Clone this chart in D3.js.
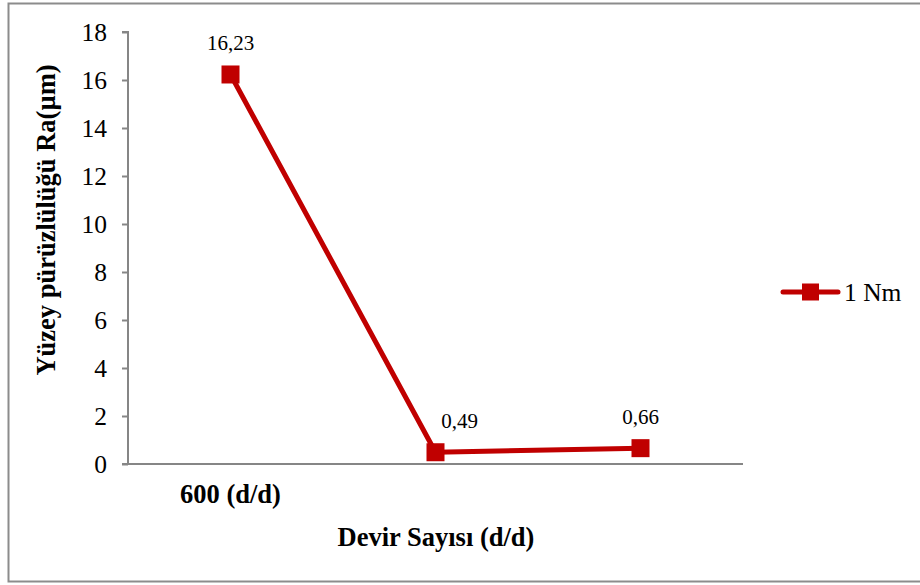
<!DOCTYPE html>
<html>
<head>
<meta charset="utf-8">
<script src="https://cdn.jsdelivr.net/npm/d3@7/dist/d3.min.js"></script>
<style>
  html, body { margin: 0; padding: 0; background: #fff; }
  svg { display: block; font-family: "Liberation Serif", "Times New Roman", serif; }
</style>
</head>
<body>
<svg id="chart" width="920" height="585"></svg>
<script>
// Surface roughness (Ra) versus spindle speed, one torque series
const categories = ["600 (d/d)", "", ""];
const series1Name = "1 Nm";
const series1Values = [16.23, 0.49, 0.66];
const valueLabels = ["16,23", "0,49", "0,66"];
const yTicks = [0, 2, 4, 6, 8, 10, 12, 14, 16, 18];
const xTitle = "Devir Sayısı (d/d)";
const yTitle = "Yüzey pürüzlülüğü Ra(µm)";

// label offsets (px) so the middle label clears the falling line
const labelDx = [0, 24, 0];

const svg = d3.select("#chart");
const red = "#c00000";
const axisGray = "#868686";
const serif = "'Liberation Serif', 'Times New Roman', serif";

// outer frame
svg.append("rect")
  .attr("x", 8.5).attr("y", 3.5)
  .attr("width", 930).attr("height", 578)
  .attr("fill", "none").attr("stroke", "#8c8c8c").attr("stroke-width", 2);

const plot = { left: 128, right: 743, top: 32, bottom: 464 };

const x = d3.scaleBand()
  .domain(d3.range(categories.length))
  .range([plot.left, plot.right])
  .padding(0);

const y = d3.scaleLinear()
  .domain([0, 18])
  .range([plot.bottom, plot.top]);

const cx = i => x(i) + x.bandwidth() / 2;

// y axis
const yAxis = svg.append("g")
  .attr("transform", `translate(${plot.left},0)`)
  .call(d3.axisLeft(y).tickValues(yTicks).tickSize(6).tickPadding(15).tickFormat(d3.format("d")));
yAxis.select(".domain").attr("stroke", axisGray).attr("stroke-width", 2).attr("d", `M-6,${plot.top}H0V${plot.bottom}`);
yAxis.selectAll(".tick line").attr("stroke", axisGray).attr("stroke-width", 2);
yAxis.selectAll(".tick text")
  .attr("fill", "#000").attr("font-size", 25.5)
  .attr("font-family", serif);

// x axis (no tick marks)
const xAxis = svg.append("g")
  .attr("transform", `translate(0,${plot.bottom})`)
  .call(d3.axisBottom(x).tickSize(0).tickPadding(20).tickFormat(i => categories[i]));
xAxis.select(".domain").attr("stroke", axisGray).attr("stroke-width", 2).attr("d", `M${plot.left - 6},0H${plot.right}`);
xAxis.selectAll(".tick text")
  .attr("fill", "#000").attr("font-size", 26.5).attr("font-weight", "bold")
  .attr("font-family", serif);

// axis titles
svg.append("text")
  .attr("x", 436).attr("y", 546)
  .attr("text-anchor", "middle")
  .attr("font-size", 26.5).attr("font-weight", "bold")
  .text(xTitle);

svg.append("text")
  .attr("transform", `translate(55,220) rotate(-90)`)
  .attr("text-anchor", "middle")
  .attr("font-size", 26.5).attr("font-weight", "bold")
  .text(yTitle);

// series line
const line = d3.line()
  .x((d, i) => cx(i))
  .y(d => y(d));

svg.append("path")
  .datum(series1Values)
  .attr("d", line)
  .attr("fill", "none")
  .attr("stroke", red)
  .attr("stroke-width", 5)
  .attr("stroke-linejoin", "round");

// markers
const mk = 18;
svg.selectAll("rect.marker")
  .data(series1Values)
  .join("rect")
  .attr("class", "marker")
  .attr("x", (d, i) => cx(i) - mk / 2)
  .attr("y", d => y(d) - mk / 2)
  .attr("width", mk).attr("height", mk)
  .attr("fill", red);

// value labels
svg.selectAll("text.value")
  .data(series1Values)
  .join("text")
  .attr("class", "value")
  .attr("x", (d, i) => cx(i) + labelDx[i])
  .attr("y", d => y(d) - 24)
  .attr("text-anchor", "middle")
  .attr("font-size", 21)
  .text((d, i) => valueLabels[i]);

// legend
const lg = svg.append("g").attr("transform", "translate(783,292)");
lg.append("line")
  .attr("x1", 0).attr("x2", 55).attr("y1", 0).attr("y2", 0)
  .attr("stroke", red).attr("stroke-width", 5).attr("stroke-linecap", "round");
lg.append("rect")
  .attr("x", 19).attr("y", -8.5).attr("width", 17).attr("height", 17)
  .attr("fill", red);
lg.append("text")
  .attr("x", 61).attr("y", 9)
  .attr("font-size", 25.5)
  .text(series1Name);
</script>
</body>
</html>
